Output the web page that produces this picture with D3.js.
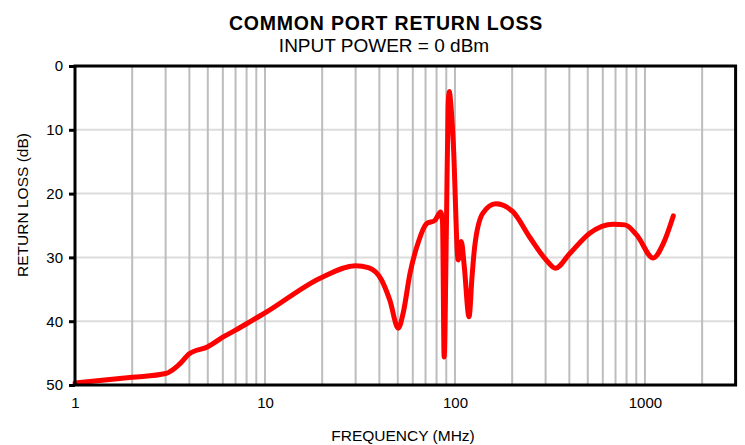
<!DOCTYPE html>
<html>
<head>
<meta charset="utf-8">
<script src="https://cdn.jsdelivr.net/npm/d3@7"></script>
<style>
  body { margin: 0; background: #fff; }
  text { font-family: "Liberation Sans", Arial, sans-serif; fill: #000; }
</style>
</head>
<body>
<script>
var width = 745,
    height = 445;

var margin = { left: 75, top: 66, right: 9.4, bottom: 60 };

// frequency (MHz) and return loss (dB)
var freq = [1, 2, 3, 3.5, 4, 5, 6, 7, 8, 9, 10, 20, 30, 35, 41, 45.4, 50.3, 53.4,
  58, 64.3, 71, 78.4, 84, 86, 87.7, 90.2, 92, 93.4, 95, 98, 104, 108, 112, 118.6,
  123, 127, 140, 164, 201, 247, 302, 338, 402, 512, 682, 785, 906, 1105, 1250, 1410];
var returnLoss = [49.7, 48.8, 48.2, 46.9, 45.1, 44.0, 42.5, 41.4, 40.4, 39.5, 38.7,
  33.1, 31.3, 31.6, 33.5, 36.7, 41.1, 38.7,
  32.5, 27.5, 24.7, 24.2, 22.9, 24.5, 45.6, 24.8, 6.5, 4.0, 5.8, 12.1, 30.4, 27.5, 31.5, 39.3,
  33.0, 28.3, 23.1, 21.6, 22.8, 26.8, 30.4, 31.7, 29.4, 26.2, 24.8, 24.9, 26.5, 30.1, 27.8, 23.5];

var yTicks = [0, 10, 20, 30, 40, 50];
var xTicks = [1, 10, 100, 1000];
var xMinor = [2, 3, 4, 5, 6, 7, 8, 9, 10, 20, 30, 40, 50, 60, 70, 80, 90, 100,
  200, 300, 400, 500, 600, 700, 800, 900, 1000, 2000];

var data = freq.map(function(f, i) { return { f: f, rl: returnLoss[i] }; });

var svg = d3.select("body")
  .append("svg")
  .attr("width", width)
  .attr("height", height);

var x = d3.scaleLog()
  .domain([1, 3000])
  .range([margin.left, width - margin.right]);

var y = d3.scaleLinear()
  .domain([0, 50])
  .range([margin.top, 385]);

// horizontal grid
svg.append("g")
  .selectAll("line")
  .data(yTicks.slice(1, -1))
  .enter().append("line")
  .attr("x1", x.range()[0])
  .attr("x2", x.range()[1])
  .attr("y1", function(d) { return y(d); })
  .attr("y2", function(d) { return y(d); })
  .attr("stroke", "#dcdcdc")
  .attr("stroke-width", 2);

// vertical grid
svg.append("g")
  .selectAll("line")
  .data(xMinor)
  .enter().append("line")
  .attr("x1", function(d) { return x(d); })
  .attr("x2", function(d) { return x(d); })
  .attr("y1", y(0))
  .attr("y2", y(50))
  .attr("stroke", "#bdbdbd")
  .attr("stroke-width", 2);

var line = d3.line()
  .x(function(d) { return x(d.f); })
  .y(function(d) { return y(d.rl); })
  .curve(d3.curveMonotoneX);

svg.append("path")
  .datum(data)
  .attr("fill", "none")
  .attr("stroke", "#ff0000")
  .attr("stroke-width", 5)
  .attr("stroke-linejoin", "round")
  .attr("stroke-linecap", "round")
  .attr("d", line);

// frame
svg.append("rect")
  .attr("x", x.range()[0])
  .attr("y", y(0))
  .attr("width", x.range()[1] - x.range()[0])
  .attr("height", y(50) - y(0))
  .attr("fill", "none")
  .attr("stroke", "#000")
  .attr("stroke-width", 3);

// y axis
var yAxis = svg.append("g")
  .attr("transform", "translate(" + margin.left + ",0)")
  .call(d3.axisLeft(y).tickValues(yTicks).tickSize(6).tickPadding(6));
yAxis.select(".domain").remove();
yAxis.selectAll(".tick line").attr("stroke", "#000").attr("stroke-width", 3);
yAxis.selectAll("text").attr("font-size", 15).attr("font-family", "Liberation Sans, Arial, sans-serif").attr("fill", "#000");

// x axis
var xAxis = svg.append("g")
  .attr("transform", "translate(0," + y(50) + ")")
  .call(d3.axisBottom(x).tickValues(xTicks).tickFormat(d3.format("d")).tickSize(0).tickPadding(12));
xAxis.select(".domain").remove();
xAxis.selectAll("text").attr("font-size", 15).attr("font-family", "Liberation Sans, Arial, sans-serif").attr("fill", "#000");

// titles
svg.append("text")
  .attr("x", 386)
  .attr("y", 30)
  .attr("text-anchor", "middle")
  .attr("font-size", 19.5)
  .attr("font-weight", "bold")
  .attr("letter-spacing", 0.8)
  .text("COMMON PORT RETURN LOSS");

svg.append("text")
  .attr("x", 384)
  .attr("y", 51.5)
  .attr("text-anchor", "middle")
  .attr("font-size", 19)
  .text("INPUT POWER = 0 dBm");

svg.append("text")
  .attr("x", 403)
  .attr("y", 441)
  .attr("text-anchor", "middle")
  .attr("font-size", 15.5)
  .text("FREQUENCY (MHz)");

svg.append("text")
  .attr("transform", "translate(28,205) rotate(-90)")
  .attr("text-anchor", "middle")
  .attr("font-size", 15.5)
  .text("RETURN LOSS (dB)");
</script>
</body>
</html>
